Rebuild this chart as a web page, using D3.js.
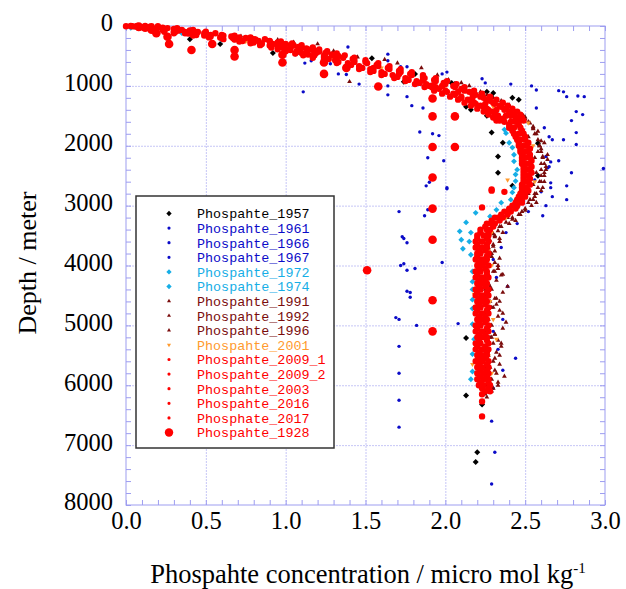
<!DOCTYPE html>
<html>
<head>
<meta charset="utf-8">
<script src="https://cdn.jsdelivr.net/npm/d3@7"></script>
<style>
  body { margin: 0; background: #fff; }
  .grid line { stroke: #c6c6f6; stroke-width: 1; stroke-dasharray: 2,1; }
  .grid path, .minor path, .lab path { display: none; }
  .minor line { stroke: #9d9df0; }
  .lab text { font-family: "Liberation Serif", "Times New Roman", serif; font-size: 24.5px; fill: #000; }
  .legend text { font-family: "Liberation Mono", monospace; font-size: 13.4px; }
</style>
</head>
<body>
<div id="chart"></div>
<script>
// ---- data (phosphate in micro mol/kg, depth in m) ----
const xMajor = [0, 0.5, 1.0, 1.5, 2.0, 2.5, 3.0];
const yMajor = [0, 1000, 2000, 3000, 4000, 5000, 6000, 7000, 8000];

// sampling levels shared by the recent red casts
const levelsA = [0,20,50,75,100,150,200,250,300,350,400,450,500,
  600,700,800,900,1000,
  1100,1200,1300,1400,1500,1600,1700,1800,1900,2000,
  2100,2200,2300,2400,2500,2600,2700,2800,2900,3000,
  3100,3200,3300,3400,3500,3600,3700,3800,3900,4000,
  4100,4200,4300,4400,4500,4600,4700,4800,4900,5000,
  5100,5200,5300,5400,5500,5600,5700,5800,5900,6000,
  6100];
const levelsB = [10,30,60,90,125,175,225,275,325,375,425,475,
  550,650,750,850,950,
  1050,1150,1250,1350,1450,1550,1650,1750,1850,1950,
  2050,2150,2250,2350,2450,2550,2650,2750,2850,2950,
  3050,3150,3250,3350,3450,3550,3650,3750,3850,3950,
  4050,4150,4250,4350,4450,4550,4650,4750,4850,4950,
  5050,5150,5250,5350,5450,5550,5650,5750,5850,5950,
  6050,6150];
// finer upper-ocean levels of the second casts
const levelsC = [5,35,65,95,120,160,190,220,260,290,320,360,390,420,460,490,530,570,
  620,670,720,770,820,870,920,970,1020,1080,1130,1180,1230,1280,1330,1380,1430,1480,1530,1580];

const p2009_1 = [0.12,0.2,0.3,0.4,0.45,0.6,0.75,0.9,1.0,1.08,1.17,1.25,1.33,
  1.5,1.64,1.78,1.93,2.05,
  2.15,2.24,2.31,2.37,2.41,2.44,2.47,2.49,2.5,2.51,
  2.52,2.53,2.53,2.53,2.52,2.52,2.51,2.5,2.48,2.45,
  2.41,2.36,2.31,2.28,2.27,2.27,2.26,2.27,2.26,2.27,
  2.26,2.27,2.26,2.27,2.27,2.26,2.27,2.27,2.26,2.27,
  2.27,2.26,2.27,2.27,2.26,2.27,2.27,2.27,2.27,2.28,
  2.28];
const p2009_1b = [0.2,0.32,0.42,0.5,0.56,0.68,0.78,0.87,0.97,1.04,1.1,1.17,1.21,1.26,1.32,1.37,1.43,1.5,
  1.58,1.65,1.72,1.79,1.86,1.94,2.01,2.07,2.12,2.18,2.23,2.28,2.32,2.36,2.39,2.42,2.45,2.47,2.48,2.49];
const p2003 = [0.03,0.1,0.18,0.24,0.3,0.44,0.6,0.73,0.85,0.95,1.03,1.1,1.17,
  1.33,1.48,1.62,1.77,1.9,
  2.01,2.1,2.19,2.27,2.33,2.37,2.4,2.43,2.45,2.46,
  2.47,2.48,2.48,2.49,2.49,2.49,2.48,2.47,2.45,2.42,
  2.37,2.31,2.26,2.22,2.2,2.19,2.19,2.2,2.19,2.2,
  2.19,2.19,2.2,2.19,2.19,2.2,2.19,2.19,2.2,2.19,
  2.19,2.2,2.19,2.19,2.2,2.19,2.2,2.2,2.2,2.21,
  null];
const p2017 = [0.07,0.16,0.24,0.33,0.37,0.53,0.67,0.83,0.92,1.03,1.09,1.19,1.24,
  1.43,1.55,1.71,1.86,1.98,
  2.08,2.17,2.25,2.32,2.38,2.41,2.43,2.46,2.47,2.49,
  2.5,2.5,2.51,2.51,2.5,2.51,2.5,2.48,2.46,2.43,
  2.39,2.33,2.29,2.26,2.24,2.23,2.23,2.22,2.23,2.23,
  2.22,2.23,2.23,2.22,2.23,2.23,2.22,2.23,2.23,2.22,
  2.23,2.23,2.22,2.23,2.23,2.23,2.23,2.24,2.24,2.24,
  2.25];
const p2017b = [0.16,0.26,0.35,0.43,0.49,0.61,0.71,0.8,0.9,0.97,1.03,1.1,1.14,1.19,1.25,1.3,1.36,1.43,
  1.51,1.58,1.65,1.72,1.79,1.87,1.94,2.0,2.06,2.12,2.17,2.22,2.26,2.3,2.34,2.38,2.41,2.43,2.45,2.46];
const p2009_2 = [0.15,0.23,0.33,0.42,0.5,0.66,0.81,0.95,1.05,1.13,1.21,1.29,
  1.42,1.57,1.71,1.86,1.99,
  2.1,2.19,2.28,2.35,2.4,2.44,2.46,2.48,2.5,2.52,
  2.53,2.53,2.54,2.54,2.54,2.53,2.53,2.52,2.5,2.48,
  2.44,2.39,2.34,2.3,2.27,2.26,2.26,2.25,2.26,2.25,
  2.25,2.26,2.25,2.25,2.26,2.25,2.25,2.26,2.25,2.25,
  2.26,2.25,2.26,2.25,2.26,2.25,2.26,2.26,2.26,2.27,
  2.27,null];
const p2009_2b = [0.0,0.08,0.16,0.24,0.3,0.42,0.52,0.61,0.71,0.78,0.84,0.91,0.95,1.0,1.06,1.11,1.17,1.24,
  1.32,1.39,1.46,1.53,1.6,1.68,1.75,1.81,1.87,1.93,1.98,2.03,2.08,2.12,2.16,2.2,2.24,2.27,2.3,2.32];
const p2016 = [0.06,0.14,0.23,0.3,0.39,0.53,0.68,0.8,0.9,0.99,1.07,1.14,
  1.27,1.41,1.55,1.7,1.84,
  1.96,2.06,2.16,2.24,2.31,2.36,2.4,2.42,2.44,2.46,
  2.47,2.48,2.48,2.49,2.49,2.49,2.48,2.48,2.46,2.44,
  2.4,2.35,2.29,2.25,2.22,2.2,2.2,2.21,2.2,2.21,
  2.21,2.2,2.21,2.21,2.2,2.21,2.21,2.2,2.21,2.21,
  2.2,2.21,2.21,2.2,2.21,2.21,2.21,2.22,2.22,2.22,
  2.23,2.23];
const p2016b = [0.04,0.14,0.23,0.31,0.37,0.49,0.59,0.68,0.78,0.85,0.91,0.98,1.02,1.07,1.13,1.18,1.24,1.31,
  1.39,1.46,1.53,1.6,1.67,1.75,1.82,1.88,1.94,2.0,2.05,2.1,2.14,2.18,2.22,2.26,2.29,2.31,2.33,2.34];
const p2003Extra = [[2.29,2750],[2.37,2770],[2.23,3030],[2.29,2730],[2.23,6270],[2.23,6520]];

const p1957 = [[0.4,220],[0.59,300],[0.92,450],[1.32,570],[1.54,540],[1.74,930],[1.81,800],
  [2.04,950],[2.06,970],[2.26,1100],[2.3,1120],[2.42,1200],[2.46,1230],[2.13,1350],[2.16,1400],
  [2.26,1500],[2.3,1530],[2.29,1780],[2.36,1950],[2.58,1960],[2.33,2180],[2.33,2450],[2.58,2500],
  [2.42,2670],[2.13,5210],[2.13,6170],[2.23,6320],[2.2,7120],[2.19,7280]];
const p1961 = [[0.35,110],[0.7,210],[1.06,480],[1.08,450],[1.12,620],[1.16,580],[1.28,630],[1.33,800],
  [1.38,810],[1.39,350],[1.46,970],[1.11,1100],[1.64,470],[1.64,580],[1.64,1000],[1.64,1150],
  [1.72,680],[1.76,680],[1.76,1180],[1.79,1330],[1.86,1370],[1.84,1770],[1.92,1800],[1.96,1830],
  [1.89,2200],[1.99,2250],[1.88,2670],[2.01,2700],[1.9,2610],[2.01,2720],[1.89,3070],[1.87,3170],
  [1.98,3950],[2.08,4970]];
const p1966 = [[1.98,800],[2.01,770],[2.23,880],[2.25,950],[2.41,970],[2.54,1000],[2.57,1070],[2.71,1080],
  [2.76,1180],[2.83,1170],[2.82,1430],[2.79,1580],[2.82,1780],[2.82,1980],[2.74,1900],[2.71,2250],
  [2.66,2270],[2.79,2450],[2.99,2380],[2.76,2670],[2.76,2900],[2.67,2850],[2.63,3000],[2.61,3170],
  [2.57,1370],[2.62,1700],[2.65,1850],[2.67,1900],[2.63,2180],[2.65,2350],[2.66,2700],[2.6,2770],
  [2.66,2620],[2.56,2570],[2.64,2370],[2.86,1480],[2.87,1180],[2.74,1100]];
const p1967 = [[1.71,3100],[1.73,3520],[1.74,3550],[1.76,3620],[1.72,4000],[1.74,3970],[1.76,4080],
  [1.81,4050],[1.76,4430],[1.78,4450],[1.78,4530],[1.69,4870],[1.71,4900],[1.82,5000],[1.71,5350],
  [1.71,5800],[1.71,6250],[1.71,6700],[2.44,5550],[2.36,5750],[2.29,6600],[2.31,7120],[2.29,7650],
  [2.39,4350],[2.36,4900],[2.3,3900],[2.32,4200],[2.28,4700],[2.3,5100],[2.33,5400],[2.28,5900],
  [2.3,6050],[2.35,3700],[2.52,3100],[2.45,3300],[2.38,3450]];
const p1972 = [[0.02,5],[0.03,30],[0.35,120],[1.08,420],[2.26,1400],[2.32,1430],[2.37,1730],[2.42,2030],
  [2.43,2260],[2.44,2480],[2.42,2780],[2.35,2950],[2.19,3120],[2.13,3280],[2.09,3430],[2.1,3570],
  [2.11,3720],[2.17,4100],[2.17,4400],[2.17,4720],[2.18,5230]];
const p1974 = [[0.05,15],[0.6,230],[2.38,1790],[2.4,1950],[2.43,2150],[2.45,2400],[2.44,2590],[2.43,2700],
  [2.41,2900],[2.32,3070],[2.28,3180],[2.16,3450],[2.15,3600],[2.16,3820],[2.17,4270],[2.17,4570],
  [2.17,4980],[2.17,5480],[2.17,5770],[2.16,5900]];
const p1991 = [[1.05,270],[1.45,520],[1.7,620],[1.95,820],[2.15,1000],[2.3,1200],[2.42,1380],[2.5,1550],
  [2.55,1700],[2.58,1900],[2.6,2100],[2.62,2300],[2.6,2500],[2.58,2700],[2.55,2900],[2.5,3050],
  [2.42,3200],[2.35,3350],[2.31,3500],[2.3,3650],[2.29,3800],[2.31,3950],[2.3,4100],[2.32,4250],
  [2.29,4400],[2.31,4550],[2.3,4700],[2.33,4850],[2.29,5000],[2.31,5150],[2.3,5300],[2.32,5450],
  [2.3,5600],[2.31,5750],[2.29,5900],[2.3,6050],
  [2.45,1450],[2.52,1600],[2.56,1800],[2.59,2000],[2.61,2200],[2.6,2400],[2.59,2600],[2.56,2800],
  [2.52,2950],[2.46,3150],[2.4,3300],[2.36,3450],[2.34,3600],[2.27,3700],[2.33,4000],[2.28,4350],
  [2.34,4600],[2.27,5050],[2.35,5300],[2.28,5700],[2.33,6000]];
const p1992 = [[0.6,150],[1.2,300],[1.4,930],[1.62,560],[2.02,900],[2.22,1100],[2.36,1280],[2.46,1450],
  [2.53,1620],[2.57,1800],[2.59,2000],[2.61,2180],[2.64,2230],[2.63,2400],[2.62,2600],[2.6,2750],
  [2.56,2850],[2.54,3000],[2.47,3150],[2.38,3280],[2.33,3420],[2.28,3580],[2.27,3730],[2.34,3880],
  [2.27,4020],[2.35,4160],[2.27,4300],[2.36,4450],[2.28,4600],[2.34,4750],[2.27,4900],[2.36,5050],
  [2.28,5200],[2.35,5350],[2.27,5500],[2.34,5650],[2.28,5800],[2.33,5950],[2.27,6100],
  [2.4,1320],[2.5,1520],[2.55,1720],[2.6,1920],[2.58,2100],[2.62,2450],[2.55,2650],[2.57,2800],
  [2.5,3080],[2.42,3230],[2.31,3520],[2.3,3680],[2.25,3850],[2.31,4100],[2.25,4400],[2.32,4550],
  [2.25,4800],[2.31,5150],[2.25,5450],[2.32,5800],[2.26,6200]];
const p1996 = [[0.3,60],[0.72,170],[0.95,230],[1.3,420],[1.85,700],[2.1,950],[2.26,1150],[2.4,1350],
  [2.49,1500],[2.55,1680],[2.52,1850],[2.6,2050],[2.56,2200],[2.63,2350],[2.57,2450],[2.6,2600],
  [2.52,2800],[2.57,2950],[2.48,3100],[2.44,3250],[2.34,3350],[2.3,3470],[2.26,3620],[2.31,3760],
  [2.25,3900],[2.33,4050],[2.26,4200],[2.39,4350],[2.25,4500],[2.32,4650],[2.26,4800],[2.38,4950],
  [2.25,5100],[2.33,5250],[2.26,5400],[2.31,5550],[2.25,5700],[2.37,5850],[2.26,6000],[2.25,6150],
  [2.35,1250],[2.47,1560],[2.58,1760],[2.62,1950],[2.64,2150],[2.6,2300],[2.62,2500],[2.61,2700],
  [2.53,2900],[2.45,3030],[2.39,3200],[2.34,3550],[2.29,3850],[2.36,4150],[2.29,4700],[2.36,4800],
  [2.29,5200],[2.34,5500],[2.29,6100]];
const p2001 = [[0.05,10],[0.08,40],[0.5,170],[0.75,260],[1.3,540],[1.6,700],[2.0,1050],[2.3,1350],
  [2.52,1620],[2.48,1800],[2.55,2000],[2.39,2570],[2.5,2300],[2.56,2600],[2.48,2900],[2.38,3200],
  [2.29,3450],[2.27,3750],[2.29,4000],[2.18,4480],[2.26,4300],[2.28,4600],[2.32,5230],[2.3,4900],
  [2.17,5650],[2.27,5500],[2.29,5800],[2.28,6000]];
const p1928 = [[0.08,10],[0.12,30],[0.16,60],[0.19,120],[0.26,180],[0.27,300],[0.41,400],[0.54,300],
  [0.68,400],[0.68,510],[0.98,480],[0.98,610],[1.24,610],[1.24,800],[1.38,700],[1.58,1010],
  [1.92,1010],[1.92,1210],[1.92,1510],[2.06,1510],[1.92,2020],[2.06,2020],[1.92,2530],[1.92,3050],
  [1.92,3570],[1.51,4080],[1.92,4580],[1.92,5100]];

const seriesNames = ["Phospahte_1957","Phospahte_1961","Phospahte_1966","Phospahte_1967",
  "Phospahte_1972","Phospahte_1974","Phospahte_1991","Phospahte_1992","Phospahte_1996",
  "Phospahte_2001","Phospahte_2009_1","Phospahte_2009_2","Phospahte_2003","Phospahte_2016",
  "Phosphate_2017","Phospahte_1928"];

// ---- helpers ----
function onLevels(levels, vals) {
  const out = [];
  vals.forEach((v, i) => { if (v != null) out.push([v, levels[i]]); });
  return out;
}
const diamond = {
  draw(ctx, size) {
    const r = Math.sqrt(size / 2);
    ctx.moveTo(0, -r); ctx.lineTo(r, 0); ctx.lineTo(0, r); ctx.lineTo(-r, 0); ctx.closePath();
  }
};

const BLACK = "#000000", BLUE = "#0b0bc8", CYAN = "#16aee6", DRED = "#7a0c0c",
      ORANGE = "#ff9a2e", RED = "#ff0000";
const RS = 32; // small red marker area

const series = [
  { pts: p1957, color: BLACK, type: diamond, size: 18, lsize: 14 },
  { pts: p1961, color: BLUE, type: d3.symbolCircle, size: 9, lsize: 8 },
  { pts: p1966, color: BLUE, type: d3.symbolCircle, size: 9, lsize: 8 },
  { pts: p1967, color: BLUE, type: d3.symbolCircle, size: 9, lsize: 8 },
  { pts: p1972, color: CYAN, type: diamond, size: 17, lsize: 14 },
  { pts: p1974, color: CYAN, type: diamond, size: 17, lsize: 14 },
  { pts: p1991, color: DRED, type: d3.symbolTriangle, size: 10, lsize: 7 },
  { pts: p1992, color: DRED, type: d3.symbolTriangle, size: 10, lsize: 7 },
  { pts: p1996, color: DRED, type: d3.symbolTriangle, size: 10, lsize: 7 },
  { pts: p2001, color: ORANGE, type: d3.symbolTriangle, size: 10, lsize: 7, flip: true },
  { pts: onLevels(levelsA, p2009_1).concat(onLevels(levelsC, p2009_1b)), color: RED, type: d3.symbolCircle, size: RS, lsize: 8 },
  { pts: onLevels(levelsB, p2009_2).concat(onLevels(levelsC, p2009_2b)), color: RED, type: d3.symbolCircle, size: RS, lsize: 8 },
  { pts: onLevels(levelsA, p2003).concat(p2003Extra), color: RED, type: d3.symbolCircle, size: RS, lsize: 8 },
  { pts: onLevels(levelsB, p2016).concat(onLevels(levelsC, p2016b)), color: RED, type: d3.symbolCircle, size: RS, lsize: 8 },
  { pts: onLevels(levelsA, p2017).concat(onLevels(levelsC, p2017b)), color: RED, type: d3.symbolCircle, size: RS, lsize: 8 },
  { pts: p1928, color: RED, type: d3.symbolCircle, size: 58, lsize: 56 }
];
series.forEach((s, i) => s.name = seriesNames[i]);

// ---- chart ----
const W = 626, H = 589;
const mLeft = 126, mTop = 26, pw = 479, ph = 479;

const x = d3.scaleLinear().domain([0, 3]).range([0, pw]);
const y = d3.scaleLinear().domain([0, 8000]).range([0, ph]);
const xMinor = d3.range(0, 31).map(d => d / 10);
const yMinor = d3.range(0, 41).map(d => d * 200);

const svg = d3.select("#chart").append("svg").attr("width", W).attr("height", H);
const g = svg.append("g").attr("transform", `translate(${mLeft},${mTop})`);

// grid
g.append("g").attr("class", "grid").attr("transform", `translate(0,${ph})`)
  .call(d3.axisBottom(x).tickValues(xMajor.slice(1, -1)).tickSize(-ph).tickFormat(""));
g.append("g").attr("class", "grid")
  .call(d3.axisLeft(y).tickValues(yMajor.slice(1, -1)).tickSize(-pw).tickFormat(""));

// minor ticks on all four sides, pointing inward
g.append("g").attr("class", "minor").attr("transform", `translate(0,${ph})`)
  .call(d3.axisBottom(x).tickValues(xMinor).tickSize(-5).tickFormat(""));
g.append("g").attr("class", "minor")
  .call(d3.axisTop(x).tickValues(xMinor).tickSize(-5).tickFormat(""));
g.append("g").attr("class", "minor")
  .call(d3.axisLeft(y).tickValues(yMinor).tickSize(-5).tickFormat(""));
g.append("g").attr("class", "minor").attr("transform", `translate(${pw},0)`)
  .call(d3.axisRight(y).tickValues(yMinor).tickSize(-5).tickFormat(""));

g.append("rect").attr("x", 0).attr("y", 0).attr("width", pw).attr("height", ph)
  .attr("fill", "none").attr("stroke", "#9d9df0").attr("stroke-width", 1);

// tick labels
g.append("g").attr("class", "lab").attr("transform", `translate(0,${ph})`)
  .call(d3.axisBottom(x).tickValues(xMajor).tickSize(0).tickPadding(7).tickFormat(d3.format(".1f")));
g.append("g").attr("class", "lab")
  .call(d3.axisLeft(y).tickValues(yMajor).tickSize(0).tickPadding(13).tickFormat(d3.format("d")))
  .selectAll("text").attr("dy", "0.2em");

// points
series.forEach(s => {
  const sym = d3.symbol().type(s.type).size(s.size);
  g.append("g").selectAll("path").data(s.pts).enter().append("path")
    .attr("d", sym)
    .attr("transform", d => `translate(${x(d[0])},${y(d[1])})` + (s.flip ? " rotate(180)" : ""))
    .attr("fill", s.color);
});

// legend
const lg = svg.append("g").attr("class", "legend").attr("transform", "translate(136,196)");
lg.append("rect").attr("width", 198).attr("height", 252)
  .attr("fill", "#fff").attr("stroke", "#333").attr("stroke-width", 1.5);
const rows = lg.selectAll("g.row").data(series).enter().append("g")
  .attr("class", "row")
  .attr("transform", (d, i) => `translate(0,${17.5 + i * 14.6})`);
rows.append("path")
  .attr("d", d => d3.symbol().type(d.type).size(d.lsize)())
  .attr("transform", d => "translate(33,0)" + (d.flip ? " rotate(180)" : ""))
  .attr("fill", d => d.color);
rows.append("text").attr("x", 61).attr("dy", "0.36em")
  .attr("fill", d => d.color).text(d => d.name);

// axis titles
svg.append("text")
  .attr("transform", "translate(36,263) rotate(-90)")
  .attr("text-anchor", "middle")
  .style("font-family", "'Liberation Serif', serif").style("font-size", "26px")
  .text("Depth / meter");
const xt = svg.append("text")
  .attr("x", 368).attr("y", 583)
  .attr("text-anchor", "middle")
  .style("font-family", "'Liberation Serif', serif").style("font-size", "26.5px");
xt.append("tspan").text("Phospahte concentration / micro mol kg");
xt.append("tspan").attr("dy", -10).style("font-size", "15px").text("-1");
</script>
</body>
</html>
